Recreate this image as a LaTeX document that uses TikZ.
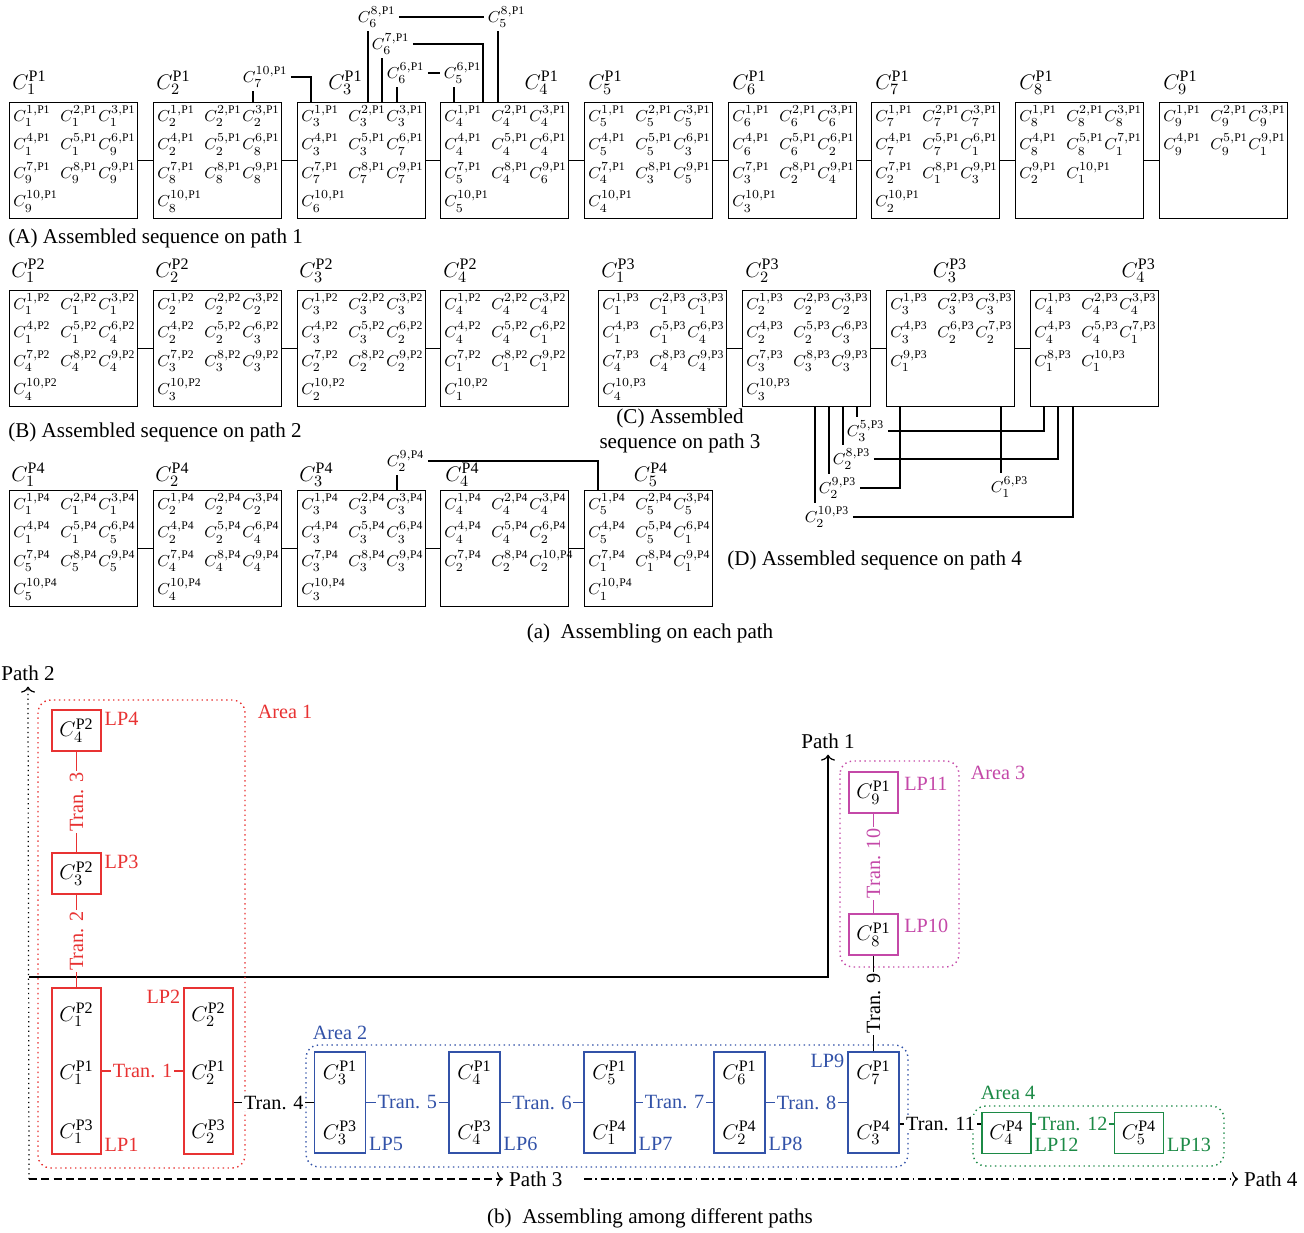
\documentclass[tikz,border=0pt]{standalone}
\usepackage{fontspec}
\setmainfont{Liberation Serif}
\usetikzlibrary{arrows.meta,positioning}
\definecolor{areared}{RGB}{232,50,50}
\definecolor{areablue}{RGB}{50,82,168}
\definecolor{areapink}{RGB}{196,72,168}
\definecolor{areagreen}{RGB}{28,138,70}

\begin{document}
\begin{tikzpicture}[
  x=0.02cm, y=-0.02cm,
  font=\fontsize{12}{14}\selectfont,
  seqbox/.style={draw,line width=0.8pt,minimum width=2.56cm,minimum height=2.32cm,inner sep=0pt},
  elem/.style={inner sep=0pt,anchor=west,font=\fontsize{9.5}{11}\selectfont},
  ttl/.style={inner sep=0pt,font=\fontsize{13}{15}\selectfont},
  lnk/.style={inner sep=2pt,anchor=west,font=\fontsize{9.5}{11}\selectfont},
  link/.style={line width=0.7pt},
  captxt/.style={inner sep=0pt},
  lpbox/.style={draw,line width=0.8pt,minimum width=0.98cm,minimum height=0.82cm,inner sep=0pt,font=\fontsize{13}{15}\selectfont},
  tallbox/.style={draw,line width=0.8pt,minimum width=0.98cm,minimum height=3.32cm,inner sep=0pt},
  pairbox/.style={draw,line width=0.8pt,minimum width=1.02cm,minimum height=2.02cm,inner sep=0pt},
  big/.style={inner sep=0pt,font=\fontsize{13}{15}\selectfont},
  tran/.style={fill=white,inner sep=1pt,font=\fontsize{11.5}{13}\selectfont},
  lp/.style={inner sep=1.5pt,font=\fontsize{11.5}{13}\selectfont},
  zone/.style={dotted,line width=0.8pt,rounded corners=0.25cm},
  pathaxis/.style={line width=0.7pt,-{To[length=1.2mm,width=2.8mm]}},
]
\useasboundingbox (0,0) rectangle (1304,1233);

% (a) sequences on each path
\foreach \nm/\x/\y/\p/\lst in {
  p1b1/9/102/1/{1/1,2/1,3/1,4/1,5/1,6/9,7/9,8/9,9/9,10/9},
  p1b2/153/102/1/{1/2,2/2,3/2,4/2,5/2,6/8,7/8,8/8,9/8,10/8},
  p1b3/297/102/1/{1/3,2/3,3/3,4/3,5/3,6/7,7/7,8/7,9/7,10/6},
  p1b4/440/102/1/{1/4,2/4,3/4,4/4,5/4,6/4,7/5,8/4,9/6,10/5},
  p1b5/584/102/1/{1/5,2/5,3/5,4/5,5/5,6/3,7/4,8/3,9/5,10/4},
  p1b6/728/102/1/{1/6,2/6,3/6,4/6,5/6,6/2,7/3,8/2,9/4,10/3},
  p1b7/871/102/1/{1/7,2/7,3/7,4/7,5/7,6/1,7/2,8/1,9/3,10/2},
  p1b8/1015/102/1/{1/8,2/8,3/8,4/8,5/8,7/1,9/2,10/1},
  p1b9/1159/102/1/{1/9,2/9,3/9,4/9,5/9,9/1},
  p2b1/9/290/2/{1/1,2/1,3/1,4/1,5/1,6/4,7/4,8/4,9/4,10/4},
  p2b2/153/290/2/{1/2,2/2,3/2,4/2,5/2,6/3,7/3,8/3,9/3,10/3},
  p2b3/297/290/2/{1/3,2/3,3/3,4/3,5/3,6/2,7/2,8/2,9/2,10/2},
  p2b4/440/290/2/{1/4,2/4,3/4,4/4,5/4,6/1,7/1,8/1,9/1,10/1},
  p3b1/598/290/3/{1/1,2/1,3/1,4/1,5/1,6/4,7/4,8/4,9/4,10/4},
  p3b2/742/290/3/{1/2,2/2,3/2,4/2,5/2,6/3,7/3,8/3,9/3,10/3},
  p3b3/886/290/3/{1/3,2/3,3/3,4/3,6/2,7/2,9/1},
  p3b4/1030/290/3/{1/4,2/4,3/4,4/4,5/4,7/1,8/1,10/1},
  p4b1/9/490/4/{1/1,2/1,3/1,4/1,5/1,6/5,7/5,8/5,9/5,10/5},
  p4b2/153/490/4/{1/2,2/2,3/2,4/2,5/2,6/4,7/4,8/4,9/4,10/4},
  p4b3/297/490/4/{1/3,2/3,3/3,4/3,5/3,6/3,7/3,8/3,9/3,10/3},
  p4b4/440/490/4/{1/4,2/4,3/4,4/4,5/4,6/2,7/2,8/2,10/2},
  p4b5/584/490/4/{1/5,2/5,3/5,4/5,5/5,6/1,7/1,8/1,9/1,10/1}}{
  \node[seqbox,anchor=north west] (\nm) at (\x,\y) {};
  \foreach \k/\s [count=\n from 0] in \lst {
    \pgfmathtruncatemacro\col{mod(\n,3)}
    \pgfmathsetmacro\dx{0.08+0.94*\col-0.18*(\col>1)}
    \pgfmathsetmacro\dy{0.28+0.57*div(\n,3)}
    \node[elem] (\nm-\n) at ([xshift=\dx cm,yshift=-\dy cm]\nm.north west) {$C^{\k,\mathrm{P\p}}_{\s}$};
  }
}

\foreach \a/\b in {p1b1/p1b2,p1b2/p1b3,p1b3/p1b4,p1b4/p1b5,p1b5/p1b6,p1b6/p1b7,p1b7/p1b8,p1b8/p1b9,
  p2b1/p2b2,p2b2/p2b3,p2b3/p2b4,p3b1/p3b2,p3b2/p3b3,p3b3/p3b4,
  p4b1/p4b2,p4b2/p4b3,p4b3/p4b4,p4b4/p4b5}
  \draw[link] (\a) -- (\b);

% titles
\foreach \nm/\x/\y/\anc/\p/\s in {
  p1t1/12/83/west/1/1, p1t2/156/83/west/1/2, p1t3/328/83/west/1/3, p1t4/559/83/east/1/4,
  p1t5/588/83/west/1/5, p1t6/732/83/west/1/6, p1t7/875/83/west/1/7, p1t8/1019/83/west/1/8,
  p1t9/1163/83/west/1/9,
  p2t1/11/271/west/2/1, p2t2/155/271/west/2/2, p2t3/299/271/west/2/3, p2t4/443/271/west/2/4,
  p3t1/601/271/west/3/1, p3t2/745/271/west/3/2, p3t3/950/271/center/3/3, p3t4/1156/271/east/3/4,
  p4t1/11/475/west/4/1, p4t2/155/475/west/4/2, p4t3/299/475/west/4/3, p4t4/445/475/west/4/4,
  p4t5/651/475/center/4/5}
  \node[ttl,anchor=\anc] (\nm) at (\x,\y) {$C^{\mathrm{P\p}}_{\s}$};

% links on path 1
\node[lnk] (l7x10) at (239,77) {$C^{10,\mathrm{P1}}_{7}$};
\node[lnk] (l6x8) at (354,17) {$C^{8,\mathrm{P1}}_{6}$};
\node[lnk] (l5x8) at (484,17) {$C^{8,\mathrm{P1}}_{5}$};
\node[lnk] (l6x7) at (368,44) {$C^{7,\mathrm{P1}}_{6}$};
\node[lnk] (l6x6) at (383,73) {$C^{6,\mathrm{P1}}_{6}$};
\node[lnk] (l5x6) at (440,73) {$C^{6,\mathrm{P1}}_{5}$};
\draw[link] ([xshift=0.28cm]l7x10.south west) -- ([xshift=0.28cm]l7x10.south west |- p1b2.north);
\draw[link] (l7x10.east) -| ([xshift=0.28cm]p1b3.north west);
\draw[link] ([xshift=0.28cm]l6x8.south west) -- ([xshift=0.28cm]l6x8.south west |- p1b3.north);
\draw[link] (l6x8) -- (l5x8);
\draw[link] ([xshift=0.28cm]l5x8.south west) -- ([xshift=0.28cm]l5x8.south west |- p1b4.north);
\draw[link] ([xshift=0.28cm]l6x7.south west) -- ([xshift=0.28cm]l6x7.south west |- p1b3.north);
\draw[link] (l6x7.east) -| ([xshift=0.86cm]p1b4.north west);
\draw[link] ([xshift=0.28cm]l6x6.south west) -- ([xshift=0.28cm]l6x6.south west |- p1b3.north);
\draw[link] (l6x6) -- (l5x6);
\draw[link] ([xshift=0.28cm]l5x6.south west) -- ([xshift=0.28cm]l5x6.south west |- p1b4.north);

% links on path 3
\node[lnk] (l3x5p3) at (843,431) {$C^{5,\mathrm{P3}}_{3}$};
\node[lnk] (l2x8p3) at (829,459) {$C^{8,\mathrm{P3}}_{2}$};
\node[lnk] (l2x9p3) at (815,488) {$C^{9,\mathrm{P3}}_{2}$};
\node[lnk] (l2x10p3) at (801,517) {$C^{10,\mathrm{P3}}_{2}$};
\node[lnk] (l1x6p3) at (987,487) {$C^{6,\mathrm{P3}}_{1}$};
\draw[link] ([xshift=0.28cm]l3x5p3.north west) -- ([xshift=0.28cm]l3x5p3.north west |- p3b2.south);
\draw[link] (l3x5p3.east) -| ([xshift=0.28cm]p3b4.south west);
\draw[link] ([xshift=0.28cm]l2x8p3.north west) -- ([xshift=0.28cm]l2x8p3.north west |- p3b2.south);
\draw[link] (l2x8p3.east) -| ([xshift=0.56cm]p3b4.south west);
\draw[link] ([xshift=0.28cm]l2x9p3.north west) -- ([xshift=0.28cm]l2x9p3.north west |- p3b2.south);
\draw[link] (l2x9p3.east) -| ([xshift=0.28cm]p3b3.south west);
\draw[link] ([xshift=0.28cm]l2x10p3.north west) -- ([xshift=0.28cm]l2x10p3.north west |- p3b2.south);
\draw[link] (l2x10p3.east) -| ([xshift=0.86cm]p3b4.south west);
\draw[link] ([xshift=0.28cm]l1x6p3.north west) -- ([xshift=0.28cm]l1x6p3.north west |- p3b3.south);

% link on path 4
\node[lnk] (l2x9p4) at (383,461) {$C^{9,\mathrm{P4}}_{2}$};
\draw[link] ([xshift=0.28cm]l2x9p4.south west) -- ([xshift=0.28cm]l2x9p4.south west |- p4b3.north);
\draw[link] (l2x9p4.east) -| ([xshift=0.28cm]p4b5.north west);

\node[captxt,anchor=west] (capA) at (8,238) {(A) Assembled sequence on path 1};
\node[captxt,anchor=west] (capB) at (8,432) {(B) Assembled sequence on path 2};
\node[captxt,align=center] (capC) at (680,431) {(C) Assembled\\sequence on path 3};
\node[captxt,anchor=west] (capD) at (727,560) {(D) Assembled sequence on path 4};
\node[captxt] (capa) at (650,633) {(a)\enspace Assembling on each path};

% (b) among different paths
\coordinate (origin) at (29,1179);
\coordinate (p1start) at (29,977);
\coordinate (p4start) at (584,1179);
\node (path1) at (828,741) {Path 1};
\node (path2) at (28,673) {Path 2};
\node[anchor=west] (path3) at (503,1179) {Path 3};
\node[anchor=west] (path4) at (1238,1179) {Path 4};
\draw[pathaxis,dotted] (origin) -- (path2.south);
\draw[pathaxis,dash pattern=on 4.5pt off 2.5pt] (origin) -- (path3.west);
\draw[pathaxis,dash pattern=on 4.5pt off 2pt on 1pt off 2pt] (p4start) -- (path4.west);
\draw[pathaxis] (p1start) -| (path1.south);

\draw[zone,areared] (38,700) rectangle (245,1168);
\draw[zone,areablue] (306,1045) rectangle (908,1167);
\draw[zone,areapink] (840,761) rectangle (959,967);
\draw[zone,areagreen] (973,1106) rectangle (1224,1166);
\node[lp,areared] (area1) at (285,712) {Area 1};
\node[lp,areablue] (area2) at (340,1033) {Area 2};
\node[lp,areapink] (area3) at (998,773) {Area 3};
\node[lp,areagreen] (area4) at (1008,1093) {Area 4};

% area 1
\node[lpbox,draw=areared] (lp4) at (76.5,730.5) {$C^{\mathrm{P2}}_{4}$};
\node[lpbox,draw=areared] (lp3) at (76.5,873.5) {$C^{\mathrm{P2}}_{3}$};
\node[tallbox,draw=areared] (lp1) at (76.5,1071) {};
\node[big] (lp1a) at (76.5,1015) {$C^{\mathrm{P2}}_{1}$};
\node[big] (lp1b) at (76.5,1073) {$C^{\mathrm{P1}}_{1}$};
\node[big] (lp1c) at (76.5,1132) {$C^{\mathrm{P3}}_{1}$};
\node[tallbox,draw=areared] (lp2) at (208.5,1071) {};
\node[big] (lp2a) at (208.5,1015) {$C^{\mathrm{P2}}_{2}$};
\node[big] (lp2b) at (208.5,1073) {$C^{\mathrm{P1}}_{2}$};
\node[big] (lp2c) at (208.5,1132) {$C^{\mathrm{P3}}_{2}$};
\node[lp,areared,anchor=north west] (lp4lbl) at (lp4.north east) {LP4};
\node[lp,areared,anchor=north west] (lp3lbl) at (lp3.north east) {LP3};
\node[lp,areared,anchor=south west] (lp1lbl) at (lp1.south east) {LP1};
\node[lp,areared,anchor=north east] (lp2lbl) at (lp2.north west) {LP2};

% area 2
\node[pairbox,draw=areablue] (lp5) at (340,1102.5) {};
\node[pairbox,draw=areablue] (lp6) at (474.5,1102.5) {};
\node[pairbox,draw=areablue] (lp7) at (609.5,1102.5) {};
\node[pairbox,draw=areablue] (lp8) at (739.5,1102.5) {};
\node[pairbox,draw=areablue] (lp9) at (873.5,1102.5) {};
\foreach \b/\x/\ta/\tb in {lp5/340/{C^{\mathrm{P1}}_{3}}/{C^{\mathrm{P3}}_{3}},
  lp6/474.5/{C^{\mathrm{P1}}_{4}}/{C^{\mathrm{P3}}_{4}},
  lp7/609.5/{C^{\mathrm{P1}}_{5}}/{C^{\mathrm{P4}}_{1}},
  lp8/739.5/{C^{\mathrm{P1}}_{6}}/{C^{\mathrm{P4}}_{2}},
  lp9/873.5/{C^{\mathrm{P1}}_{7}}/{C^{\mathrm{P4}}_{3}}}{
  \node[big] (\b a) at (\x,1073) {$\ta$};
  \node[big] (\b b) at (\x,1133) {$\tb$};
}
\node[lp,areablue,anchor=south west] (lp5lbl) at (lp5.south east) {LP5};
\node[lp,areablue,anchor=south west] (lp6lbl) at (lp6.south east) {LP6};
\node[lp,areablue,anchor=south west] (lp7lbl) at (lp7.south east) {LP7};
\node[lp,areablue,anchor=south west] (lp8lbl) at (lp8.south east) {LP8};
\node[lp,areablue,anchor=north east] (lp9lbl) at (lp9.north west) {LP9};

% area 3
\node[lpbox,draw=areapink] (lp10) at (873.5,934.5) {$C^{\mathrm{P1}}_{8}$};
\node[lpbox,draw=areapink] (lp11) at (873.5,792.5) {$C^{\mathrm{P1}}_{9}$};
\node[lp,areapink,anchor=north west,inner sep=3pt] (lp10lbl) at (lp10.north east) {LP10};
\node[lp,areapink,anchor=north west,inner sep=3pt] (lp11lbl) at (lp11.north east) {LP11};

% area 4
\node[lpbox,draw=areagreen] (lp12) at (1006.5,1133) {$C^{\mathrm{P4}}_{4}$};
\node[lpbox,draw=areagreen] (lp13) at (1139,1133) {$C^{\mathrm{P4}}_{5}$};
\node[lp,areagreen,anchor=south west] (lp12lbl) at (lp12.south east) {LP12};
\node[lp,areagreen,anchor=south west] (lp13lbl) at (lp13.south east) {LP13};

% transitions
\draw[link,areared] (lp3) -- node[tran,sloped] {Tran. 3} (lp4);
\draw[link,areared] (lp1) -- node[tran,sloped] {Tran. 2} (lp3);
\draw[link,areared] (lp1) -- node[tran] {Tran. 1} (lp2);
\draw[link] (lp2.east |- lp5) -- node[tran] {Tran. 4} (lp5);
\draw[link,areablue] (lp5) -- node[tran] {Tran. 5} (lp6);
\draw[link,areablue] (lp6) -- node[tran] {Tran. 6} (lp7);
\draw[link,areablue] (lp7) -- node[tran] {Tran. 7} (lp8);
\draw[link,areablue] (lp8) -- node[tran] {Tran. 8} (lp9);
\draw[link] (lp9) -- node[tran,sloped] {Tran. 9} (lp10);
\draw[link,areapink] (lp10) -- node[tran,sloped] {Tran. 10} (lp11);
\draw[link] ([yshift=0.18cm]lp12.west -| lp9.east) -- node[tran] {Tran. 11} ([yshift=0.18cm]lp12.west);
\draw[link,areagreen] ([yshift=0.18cm]lp12.east) -- node[tran] {Tran. 12} ([yshift=0.18cm]lp13.west);

\node[captxt] (capb) at (650,1218) {(b)\enspace Assembling among different paths};

\end{tikzpicture}
\end{document}
